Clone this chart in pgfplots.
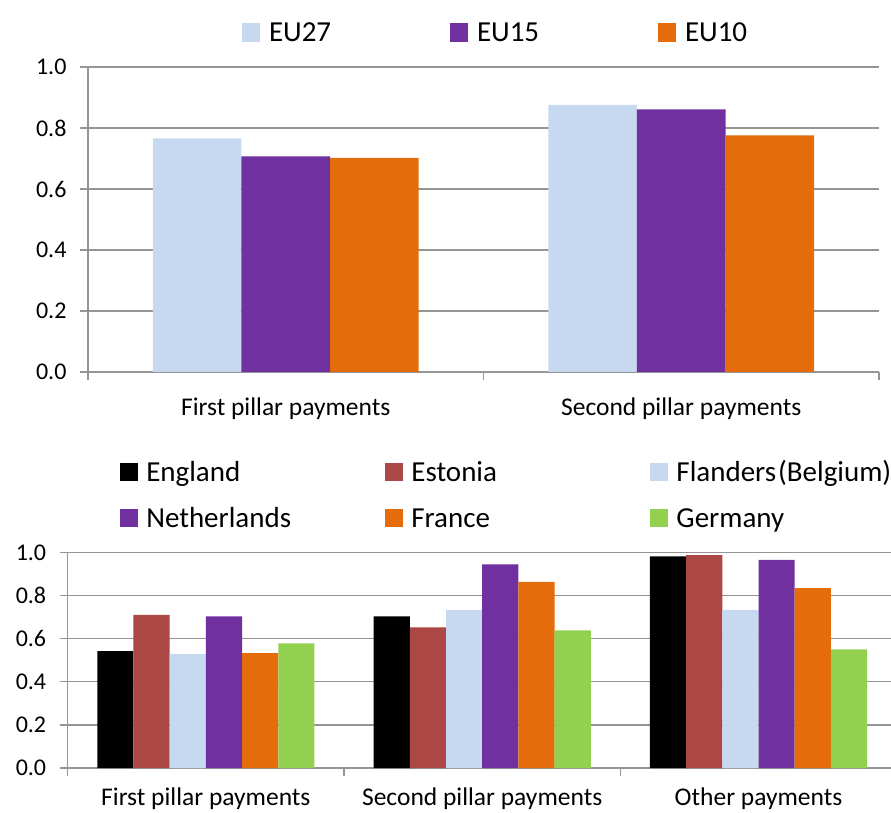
\documentclass[border=0pt]{standalone}
\usepackage{fontspec}
\setmainfont{Carlito}
\usepackage{pgfplots}
\pgfplotsset{compat=1.18}

\definecolor{cBlue}{HTML}{C6D9F1}
\definecolor{cPurple}{HTML}{7030A0}
\definecolor{cOrange}{HTML}{E46C0A}
\definecolor{cRed}{HTML}{AB4745}
\definecolor{cGreen}{HTML}{92D050}
\definecolor{gridgray}{HTML}{959595}

\pgfplotsset{
  xlbar/.style={
    scale only axis, ybar, ymin=0, ymax=1,
    ytick={0,0.2,0.4,0.6,0.8,1},
    axis lines*=left, axis line style={gridgray, line width=1.2pt, -},
    ymajorgrids, grid style={gridgray, line width=1.2pt},
    tick align=outside, major tick length=8pt,
    ytick style={gridgray, line width=1.2pt},
    yticklabel style={font=\fontsize{24}{24}\selectfont, xshift=-10pt,
      /pgf/number format/.cd, fixed, fixed zerofill, precision=1, assume math mode=true},
    xtick style={draw=none},
    xticklabel style={font=\fontsize{25.5}{25.5}\selectfont, anchor=base},
    extra x tick style={xtick style={draw=gridgray, line width=1.2pt}, grid=none},
    extra x tick labels={},
    legend image code/.code={\fill[##1] (0pt,0pt) rectangle (17.5pt,18.5pt);},
    legend columns=3,
  }
}

\begin{document}
\begin{tikzpicture}
\useasboundingbox (0,0) rectangle (891pt,812pt);

% upper chart: EU groups
\begin{axis}[xlbar,
  at={(88pt,440pt)}, anchor=south west,
  width=791pt, height=305pt,
  xmin=-0.5, xmax=1.5, bar width=0.224,
  xtick={0,1}, xticklabels={First pillar payments, Second pillar payments},
  xticklabel style={yshift=-35pt},
  extra x ticks={-0.5,0.5,1.5},
  legend style={at={(0.1947,1.151)}, anchor=north west, draw=none, fill=none,
    inner sep=0pt, outer sep=0pt, cells={anchor=base west, inner sep=0pt},
    font=\fontsize{29}{29}\selectfont,
    /tikz/every odd column/.append style={column sep=7.5pt}},
]
\addplot[fill=cBlue, draw=none, bar shift=-0.224] coordinates {(0,0.766) (1,0.876)};
\addlegendentry{\makebox[179pt][l]{EU27}}
\addplot[fill=cPurple, draw=none, bar shift=0] coordinates {(0,0.707) (1,0.861)};
\addlegendentry{\makebox[179pt][l]{EU15}}
\addplot[fill=cOrange, draw=none, bar shift=0.224] coordinates {(0,0.702) (1,0.776)};
\addlegendentry{EU10}
\end{axis}

% lower chart: regions
\begin{axis}[xlbar,
  at={(67.7pt,44pt)}, anchor=south west,
  width=829pt, height=215.3pt,
  xmin=-0.5, xmax=2.5, bar width=0.131,
  xtick={0,1,2}, xticklabels={First pillar payments, Second pillar payments, Other payments},
  xticklabel style={yshift=-29pt},
  extra x ticks={-0.5,0.5,1.5,2.5},
  legend style={at={(0.0633,1.44)}, anchor=north west, draw=none, fill=none,
    inner sep=0pt, outer sep=0pt, cells={anchor=base west, inner sep=0pt},
    font=\fontsize{29}{29}\selectfont,
    /tikz/row sep={46pt,between origins},
    /tikz/every odd column/.append style={column sep=6.6pt}},
]
\addplot[fill=black, draw=none, bar shift=-0.3275] coordinates {(0,0.543) (1,0.704) (2,0.983)};
\addlegendentry{\makebox[237pt][l]{England}}
\addplot[fill=cRed, draw=none, bar shift=-0.1965] coordinates {(0,0.711) (1,0.653) (2,0.989)};
\addlegendentry{\makebox[237pt][l]{Estonia}}
\addplot[fill=cBlue, draw=none, bar shift=-0.0655] coordinates {(0,0.529) (1,0.734) (2,0.734)};
\addlegendentry{Flanders\hspace{2pt}(Belgium)}
\addplot[fill=cPurple, draw=none, bar shift=0.0655] coordinates {(0,0.704) (1,0.946) (2,0.967)};
\addlegendentry{\makebox[237pt][l]{Netherlands}}
\addplot[fill=cOrange, draw=none, bar shift=0.1965] coordinates {(0,0.534) (1,0.865) (2,0.836)};
\addlegendentry{\makebox[237pt][l]{France}}
\addplot[fill=cGreen, draw=none, bar shift=0.3275] coordinates {(0,0.579) (1,0.639) (2,0.551)};
\addlegendentry{Germany}
\end{axis}
\end{tikzpicture}
\end{document}
